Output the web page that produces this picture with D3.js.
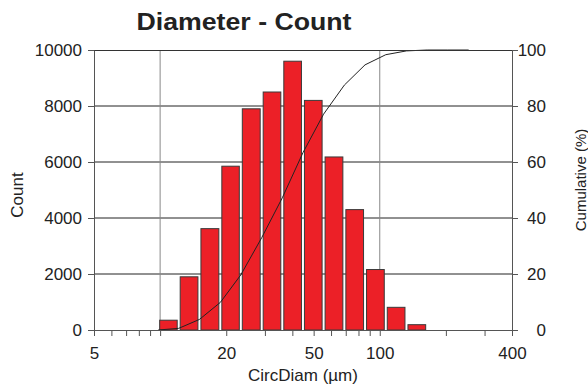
<!DOCTYPE html>
<html>
<head>
<meta charset="utf-8">
<script src="https://cdn.jsdelivr.net/npm/d3@7"></script>
<style>
  body { margin: 0; background: #fff; }
  text { font-family: "Liberation Sans", Arial, sans-serif; fill: #222; }
</style>
</head>
<body>
<div id="chart"></div>
<script>
// Bin edges (µm) on the log axis; the last two only carry the flat tail of the curve
const binEdges = [9.8, 12.15, 15.1, 18.8, 23.3, 29.0, 36.0, 44.7, 55.5, 69.0, 85.7, 106.5, 132.3, 164.4, 204, 254];
// Count per bin
const counts = [350, 1900, 3620, 5850, 7900, 8500, 9600, 8200, 6180, 4300, 2160, 810, 190];

const countTicks = [0, 2000, 4000, 6000, 8000, 10000];
const cumTicks = [0, 20, 40, 60, 80, 100];
const diamLabels = [5, 20, 50, 100, 400];
const diamMinor = [6, 7, 8, 9, 10, 30, 40, 60, 70, 80, 90, 200, 300];

const width = 588;
const height = 388;
const margin = { top: 50, right: 76, bottom: 58, left: 94 };
const plotW = width - margin.left - margin.right;
const plotH = height - margin.top - margin.bottom;

const svg = d3.select("#chart")
    .append("svg")
    .attr("width", width)
    .attr("height", height);

const g = svg.append("g")
    .attr("transform", `translate(${margin.left},${margin.top})`);

// Scales
const x = d3.scaleLog().domain([5, 400]).range([0, plotW]);
const y = d3.scaleLinear().domain([0, 10000]).range([plotH, 0]);
const y2 = d3.scaleLinear().domain([0, 100]).range([plotH, 0]);

// Grid lines
g.append("g")
    .selectAll("line")
    .data(countTicks.slice(1, -1))
    .enter().append("line")
    .attr("x1", 0).attr("x2", plotW)
    .attr("y1", d => y(d)).attr("y2", d => y(d))
    .attr("stroke", "#222");

g.append("g")
    .selectAll("line")
    .data([10, 100])
    .enter().append("line")
    .attr("x1", d => x(d)).attr("x2", d => x(d))
    .attr("y1", 0).attr("y2", plotH)
    .attr("stroke", "#888");

// Bars
g.append("g")
    .selectAll("rect")
    .data(counts)
    .enter().append("rect")
    .attr("x", (d, i) => x(binEdges[i]) + 1.5)
    .attr("y", d => y(d))
    .attr("width", (d, i) => x(binEdges[i + 1]) - x(binEdges[i]) - 3)
    .attr("height", d => plotH - y(d))
    .attr("fill", "#ec2027")
    .attr("stroke", "#3a3a3a")
    .attr("stroke-width", 1);

// Cumulative curve (percent at the upper edge of each bin)
const total = d3.sum(counts);
const cum = d3.cumsum(counts);
const cumPoints = binEdges.map((e, i) => [e, i === 0 ? 0 : (i <= counts.length ? cum[i - 1] : total) / total * 100]);

g.append("path")
    .datum(cumPoints)
    .attr("fill", "none")
    .attr("stroke", "#222")
    .attr("stroke-width", 1)
    .attr("d", d3.line().x(d => x(d[0])).y(d => y2(d[1])));

// Frame top
g.append("line").attr("x1", 0).attr("x2", plotW).attr("y1", 0.5).attr("y2", 0.5).attr("stroke", "#333");

// Axes
g.append("g")
    .call(d3.axisLeft(y).tickValues(countTicks).tickFormat(d3.format("d")).tickSize(6).tickPadding(6).tickSizeOuter(0));
const yAxis2 = g.append("g")
    .attr("transform", `translate(${plotW},0)`)
    .call(d3.axisRight(y2).tickValues(cumTicks).tickSize(6).tickPadding(0).tickSizeOuter(0));
yAxis2.selectAll("text").attr("text-anchor", "end").attr("x", 34);

g.append("g")
    .attr("transform", `translate(0,${plotH})`)
    .call(d3.axisBottom(x).tickValues(diamLabels).tickFormat(d3.format("d")).tickSize(6).tickPadding(11).tickSizeOuter(0));
g.append("g")
    .attr("transform", `translate(0,${plotH})`)
    .call(d3.axisBottom(x).tickValues(diamMinor).tickFormat("").tickSize(6).tickSizeOuter(0))
    .select(".domain").remove();

g.selectAll(".domain").attr("stroke", "#555");
g.selectAll(".tick line").attr("stroke", "#555");
g.selectAll(".tick text").style("font-size", "17px").attr("fill", "#222");

// Titles
svg.append("text")
    .attr("x", 244)
    .attr("y", 30)
    .attr("text-anchor", "middle")
    .attr("textLength", 215)
    .attr("lengthAdjust", "spacingAndGlyphs")
    .style("font-size", "23px")
    .style("font-weight", "bold")
    .text("Diameter - Count");

svg.append("text")
    .attr("x", 303)
    .attr("y", 381)
    .attr("text-anchor", "middle")
    .style("font-size", "17px")
    .text("CircDiam (µm)");

svg.append("text")
    .attr("transform", `translate(23,${margin.top + plotH / 2 + 5}) rotate(-90)`)
    .attr("text-anchor", "middle")
    .style("font-size", "17px")
    .text("Count");

svg.append("text")
    .attr("transform", `translate(586,${margin.top + plotH / 2 - 10}) rotate(-90)`)
    .attr("text-anchor", "middle")
    .style("font-size", "15px")
    .text("Cumulative (%)");
</script>
</body>
</html>
